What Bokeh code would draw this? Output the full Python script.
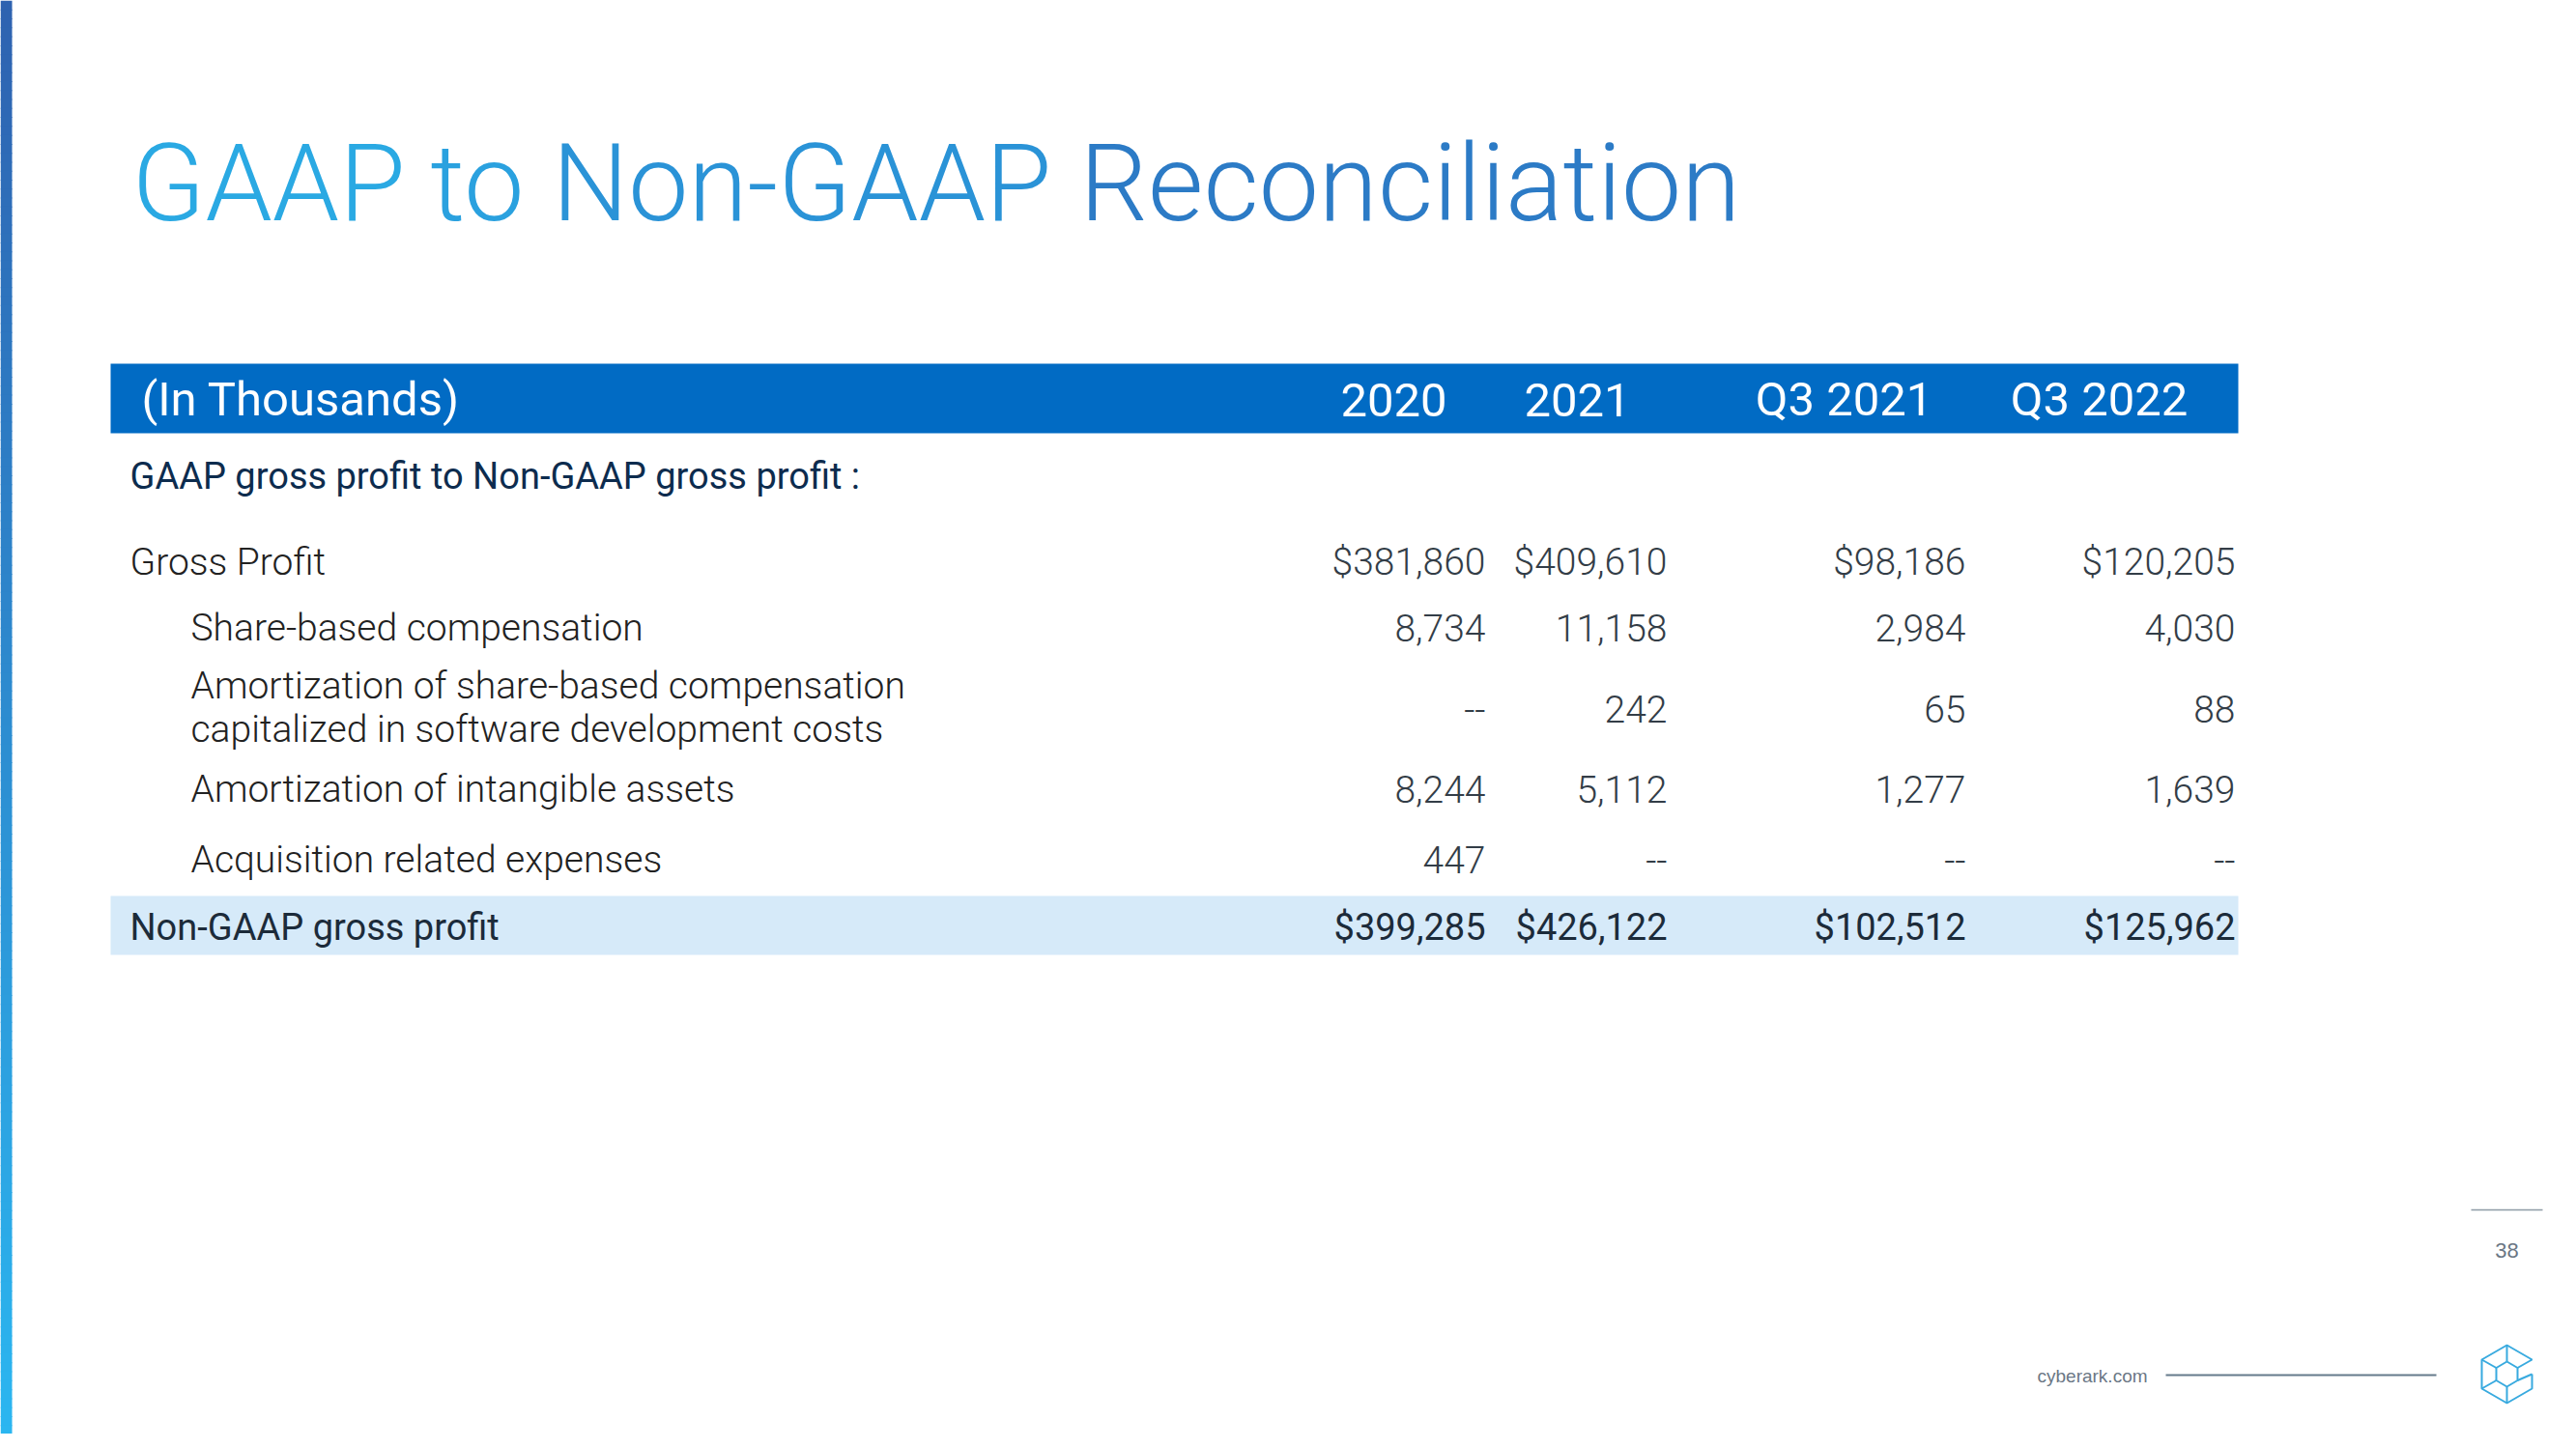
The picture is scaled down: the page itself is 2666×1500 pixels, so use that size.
from bokeh.plotting import figure
from bokeh.models import Range1d
from bokeh.core.properties import value
from bokeh.embed import file_html
from bokeh.resources import INLINE

# ---------------- data ----------------
title_words = ["GAAP", "to", "Non-GAAP", "Reconciliation"]
header_label = "(In Thousands)"
periods = ["2020", "2021", "Q3 2021", "Q3 2022"]
section_label = "GAAP gross profit to Non-GAAP gross profit :"
row_labels = [
    ["Gross Profit"],
    ["Share-based compensation"],
    ["Amortization of share-based compensation", "capitalized in software development costs"],
    ["Amortization of intangible assets"],
    ["Acquisition related expenses"],
]
gross_profit = [381860, 409610, 98186, 120205]
share_based_comp = [8734, 11158, 2984, 4030]
amort_sbc_capitalized = [None, 242, 65, 88]
amort_intangibles = [8244, 5112, 1277, 1639]
acquisition_expenses = [447, None, None, None]
total_label = "Non-GAAP gross profit"
non_gaap_gross_profit = [399285, 426122, 102512, 125962]
page_number = "38"
footer_text = "cyberark.com"

row_values = [gross_profit, share_based_comp, amort_sbc_capitalized,
              amort_intangibles, acquisition_expenses]
row_dollar = [True, False, False, False, False]


def fmt(v, dollar=False):
    if v is None:
        return "--"
    s = f"{v:,}"
    return "$" + s if dollar else s


# ---------------- layout ----------------
W, H = 2650, 1484
p = figure(width=W, height=H, x_range=Range1d(0, W), y_range=Range1d(H, 0),
           output_backend="svg", toolbar_location=None, min_border=0,
           x_axis_location=None, y_axis_location=None)
p.grid.visible = False
p.outline_line_color = None
p.background_fill_color = "white"
p.border_fill_color = "white"

LIGHT = value("Roboto Light")
REG = value("Roboto")
OFF = 0.34  # baseline correction (fraction of font size)


def base(y, size):
    return y - OFF * size


# left gradient bar
n = 160
top_c = (46, 98, 176)
bot_c = (43, 182, 240)
ys0, ys1, cols = [], [], []
for i in range(n):
    t = i / (n - 1)
    c = tuple(int(round(top_c[k] + (bot_c[k] - top_c[k]) * t)) for k in range(3))
    ys0.append(H * i / n)
    ys1.append(H * (i + 1) / n + 1)
    cols.append("#%02x%02x%02x" % c)
p.quad(left=[0] * n, right=[12] * n, top=ys0, bottom=ys1, color=cols, line_color=None)

# title (word colours step through a light->dark blue gradient)
TS = 111
title_x = [136, 445, 571, 1117]
title_cols = ["#2aa9e3", "#2aa1df", "#2a93d7", "#2c7bc6"]
p.text(x=title_x, y=[base(227, TS)] * 4, text=title_words, text_font=LIGHT,
       text_font_size=f"{TS}px", text_color=title_cols, text_baseline="alphabetic",
       text_align="left")

# header bar
TL, TR = 114, 2316
HS = 49
p.quad(left=[TL], right=[TR], top=[376], bottom=[448], color="#016bc4", line_color=None)
p.text(x=[146], y=[base(430, HS)], text=[header_label], text_font=REG,
       text_font_size=f"{HS}px", text_color="white", text_baseline="alphabetic")
head_cx = [1442, 1632, 1908, 2172]
p.text(x=head_cx, y=[base(430, HS)] * 4, text=periods, text_font=REG,
       text_font_size=f"{HS}px", text_color="white", text_baseline="alphabetic",
       text_align="center")

# section label
SS = 38
p.text(x=[134], y=[base(505, SS)], text=[section_label], text_font=REG,
       text_font_size=f"{SS}px", text_color="#0d2c4e", text_baseline="alphabetic")

# body rows
RS = 39
col_right = [1537, 1725, 2034, 2313]
label_x = [134, 197, 197, 197, 197]
label_base = [[595], [663], [723, 768], [830], [903]]
value_base = [595, 663, 747, 830, 903]
lx, ly, lt = [], [], []
for i, lines in enumerate(row_labels):
    for j, line in enumerate(lines):
        lx.append(label_x[i]); ly.append(base(label_base[i][j], RS)); lt.append(line)
p.text(x=lx, y=ly, text=lt, text_font=LIGHT, text_font_size=f"{RS}px",
       text_color="#222222", text_baseline="alphabetic")
vx, vy, vt = [], [], []
for i, vals in enumerate(row_values):
    for k, v in enumerate(vals):
        vx.append(col_right[k]); vy.append(base(value_base[i], RS)); vt.append(fmt(v, row_dollar[i]))
p.text(x=vx, y=vy, text=vt, text_font=LIGHT, text_font_size=f"{RS}px",
       text_color="#333d47", text_baseline="alphabetic", text_align="right")

# total band
p.quad(left=[TL], right=[TR], top=[927], bottom=[988], color="#d6eaf9", line_color=None)
p.text(x=[134], y=[base(972, SS)], text=[total_label], text_font=REG,
       text_font_size=f"{SS}px", text_color="#1c2b3a", text_baseline="alphabetic")
p.text(x=col_right, y=[base(972, SS)] * 4, text=[fmt(v, True) for v in non_gaap_gross_profit],
       text_font=REG, text_font_size=f"{SS}px", text_color="#1c2b3a",
       text_baseline="alphabetic", text_align="right")

# footer: page number
p.segment(x0=[2557], y0=[1252], x1=[2631], y1=[1252], line_color="#8d9aa5", line_width=1.5)
p.text(x=[2594], y=[base(1301, 22)], text=[page_number], text_font=value("Liberation Sans"),
       text_font_size="22px", text_color="#6b7785", text_baseline="alphabetic",
       text_align="center")
# footer: site + rule
p.text(x=[2108], y=[base(1430, 19)], text=[footer_text], text_font=value("Liberation Sans"),
       text_font_size="19px", text_color="#6b7785", text_baseline="alphabetic")
p.segment(x0=[2241], y0=[1423], x1=[2521], y1=[1423], line_color="#667b8b", line_width=2)

# footer: cube logo outline
cx, cy = 2594, 1422
outer = [(26, 0), (26, 15), (0, 30), (-26, 15), (-26, -15), (0, -30), (26, -15), (11, -6.5)]
inner = [(0, -13), (11, -6.5), (11, 6.5), (0, 13), (-11, 6.5), (-11, -6.5), (0, -13)]
spokes = [[(0, -30), (0, -13)], [(-26, 15), (-11, 6.5)], [(0, 30), (0, 13)],
          [(26, 0), (11, 6.5)], [(-26, -15), (-11, -6.5)]]
paths = [outer, inner] + spokes
p.multi_line(xs=[[cx + a for a, b in path] for path in paths],
             ys=[[cy + b for a, b in path] for path in paths],
             line_color="#38aadf", line_width=2)

open("out.html", "w").write(file_html(p, INLINE))
